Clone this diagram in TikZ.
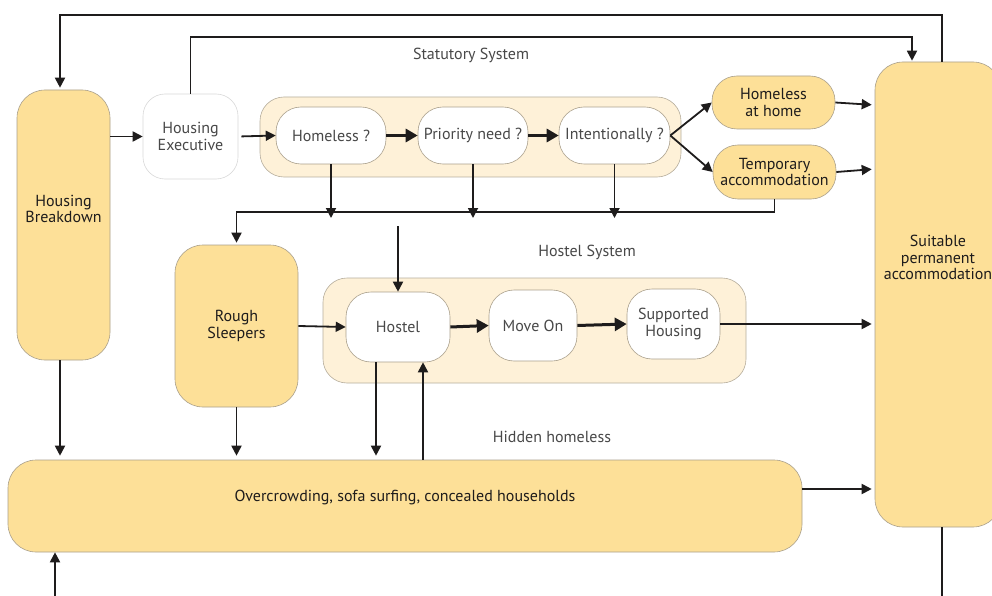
\documentclass[tikz,border=0pt]{standalone}
\usepackage{fontspec}
\setmainfont{PT Sans}
\usetikzlibrary{arrows.meta}
\definecolor{yel}{RGB}{253,224,152}
\definecolor{cream}{RGB}{254,241,216}
\definecolor{bord}{RGB}{170,160,140}
\definecolor{txt}{RGB}{30,28,28}
\definecolor{ltxt}{RGB}{72,72,72}
\tikzset{
  boxbase/.style={inner sep=0pt, align=center, line width=0.6pt, font=\fontsize{16}{16.5}\selectfont},
  ybox/.style={boxbase, draw=bord, fill=yel, text=txt, rounded corners=28pt},
  wbox/.style={boxbase, draw=bord, fill=white, text=ltxt, rounded corners=25pt},
  contbox/.style={draw=bord!85, fill=cream, line width=0.6pt, rounded corners=24pt, inner sep=0pt},
  ytext/.style={align=center, text=txt, inner sep=0pt, font=\fontsize{16}{16.5}\selectfont},
  heading/.style={text=ltxt, inner sep=0pt, font=\fontsize{16}{17}\selectfont},
  conn/.style={line width=1.8pt, draw=txt},
  arr/.style={conn, -{Triangle[length=10pt,width=10pt]}},
  tarr/.style={line width=3pt, draw=txt, -{Triangle[length=12pt,width=13pt]}},
}
\begin{document}
\begin{tikzpicture}[x=1pt,y=-1pt]
\useasboundingbox (0,0) rectangle (992,596);
\clip (0,0) rectangle (992,596);
\fill[white] (0,0) rectangle (992,596);

% containers
\node[contbox, minimum width=421pt, minimum height=80pt] (stat) at (470.5,137) {};
\node[contbox, minimum width=423pt, minimum height=105pt] (hsys) at (534.5,330.5) {};

% headings
\node[heading] (stath) at (471,55) {Statutory System};
\node[heading] (hsysh) at (587,252) {Hostel System};
\node[heading] (hidh) at (552,437) {Hidden homeless};

% yellow boxes
\node[ybox, minimum width=93pt, minimum height=270pt] (hb) at (63.5,225) {};
\node[ytext] (hbt) at ([yshift=16pt]hb.center) {Housing\\Breakdown};
\node[ybox, minimum width=126pt, minimum height=465pt] (suit) at (938,294.5) {};
\node[ytext] (suitt) at ([yshift=37pt]suit.center) {Suitable\\permanent\\accommodation};
\node[ybox, minimum width=794pt, minimum height=92pt] (ov) at (405,506) {};
\node[ytext] (ovt) at ([yshift=9pt]ov.center) {Overcrowding, sofa surfing, concealed households};
\node[ybox, minimum width=123pt, minimum height=162pt] (rs) at (236.5,326) {Rough\\Sleepers};
\node[ybox, rounded corners=25pt, minimum width=123pt, minimum height=53pt] (hah) at (773.5,102.5) {Homeless\\at home};
\node[ybox, rounded corners=25pt, minimum width=123pt, minimum height=54pt] (ta) at (774.5,172) {Temporary\\accommodation};

% white boxes
\node[wbox, draw=black!15, rounded corners=22pt, minimum width=95pt, minimum height=85pt] (he) at (190.5,136.5) {Housing\\Executive};
\node[wbox, minimum width=110pt, minimum height=57pt] (hl) at (331,135.5) {Homeless ?};
\node[wbox, minimum width=110pt, minimum height=57pt] (pn) at (473,135.5) {Priority need ?};
\node[wbox, minimum width=111pt, minimum height=57pt] (int) at (614.5,135.5) {Intentionally ?};
\node[wbox, minimum width=104pt, minimum height=70pt] (hostel) at (398,327) {Hostel};
\node[wbox, minimum width=88pt, minimum height=71pt] (mo) at (533,325.5) {Move On};
\node[wbox, minimum width=93pt, minimum height=70pt] (sh) at (673.5,324) {Supported\\Housing};

% connectors
\draw[arr, shorten >=2pt] (942,0 |- suit.north) -- (942,15) -| (60,0 |- hb.north);
\draw[arr, shorten >=1pt] (he.north) -- (he.north |- 0,37) -| (912,0 |- suit.north);
\draw[arr] (hb.east |- he) -- (he.west);
\draw[arr, shorten <=3pt] (he.east) -- (hl.west);
\draw[tarr] (hl.east) -- (pn.west);
\draw[tarr] (pn.east) -- (int.west);
\draw[arr] (int.east) -- (hah.west);
\draw[arr] (int.east) -- (ta.west);
\draw[arr, shorten >=3pt] (hah.east) -- (suit.west |- 0,105);
\draw[arr, shorten >=3pt] (ta.east) -- (suit.west |- 0,169);
\draw[arr] (hl.south) -- (hl.south |- 0,218);
\draw[arr] (pn.south) -- (pn.south |- 0,218);
\draw[arr] (int.south) -- (int.south |- 0,218);
\draw[arr, shorten >=2pt] (ta.south) -- (ta.south |- 0,212) -| (rs.north);
\coordinate (hin) at (398,226);
\draw[arr] (hin) -- (hostel.north);
\draw[arr] (rs.east) -- (hostel.west);
\draw[tarr] (hostel.east) -- (mo.west);
\draw[tarr] (mo.east) -- (sh.west);
\draw[arr, shorten >=3pt] (sh.east) -- (suit.west |- sh.east);
\draw[arr, shorten >=4pt] (60,0 |- hb.south) -- (60,0 |- ov.north);
\draw[arr, shorten >=4pt] (rs.south) -- (rs.south |- ov.north);
\draw[arr, shorten >=4pt] (376,0 |- hostel.south) -- (376,0 |- ov.north);
\draw[arr] (423,0 |- ov.north) -- (423,0 |- hostel.south);
\draw[arr, shorten >=3pt] (ov.east |- 0,489) -- (suit.west |- 0,489);
\coordinate (bl) at (55,600);
\draw[arr] (bl) -- (bl |- ov.south);
\coordinate (br) at (942,600);
\draw[conn] (942,0 |- suit.south) -- (br);
\end{tikzpicture}
\end{document}
